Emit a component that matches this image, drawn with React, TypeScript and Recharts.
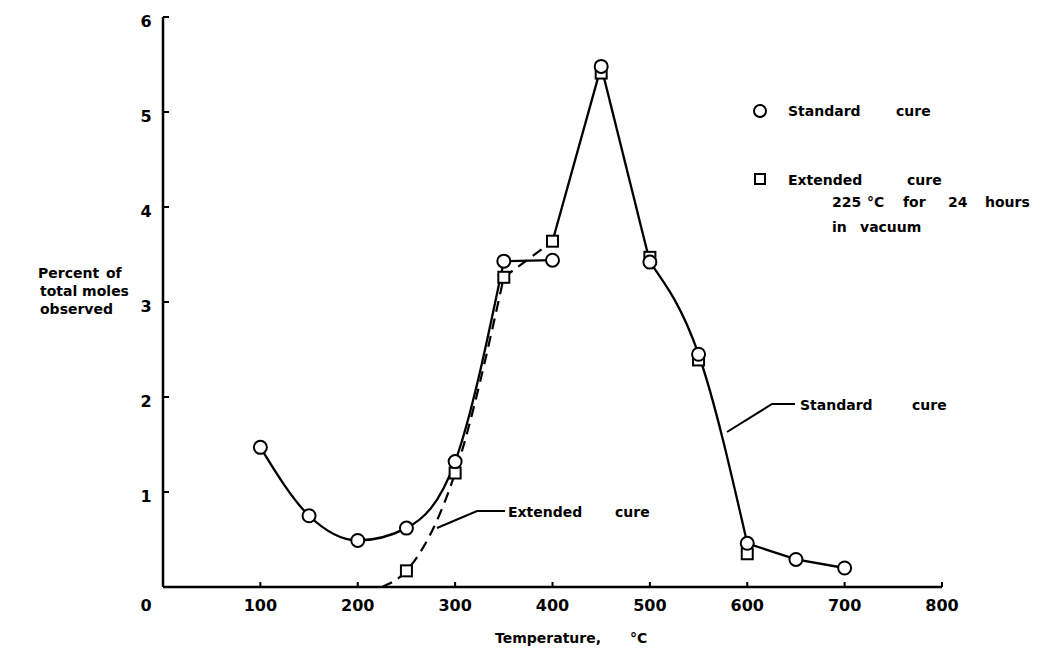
import React from "react"
import { ComposedChart, Line, Scatter, XAxis, YAxis } from "recharts"

// readings (temperature in °C, percent of total moles)
const standardTemps = [100, 150, 200, 250, 300, 350, 400, 450, 500, 550, 600, 650, 700]
const standardValues = [1.47, 0.75, 0.49, 0.62, 1.32, 3.43, 3.44, 5.48, 3.42, 2.45, 0.46, 0.29, 0.2]
const extendedTemps = [250, 300, 350, 400, 450, 500, 550, 600]
const extendedValues = [0.17, 1.2, 3.26, 3.64, 5.41, 3.47, 2.39, 0.35]
// the dashed extended-cure curve starts on the axis
const extendedStartTemp = 225
const extendedStartValue = 0

const xTicks = [0, 100, 200, 300, 400, 500, 600, 700, 800]
const yTicks = [1, 2, 3, 4, 5, 6]

const W = 1052
const H = 650
const PLOT_LEFT = 163
const PLOT_BOTTOM = 587
const FONT = "'DejaVu Sans', sans-serif"

const pts = (temps: number[], values: number[]) => temps.map((t, i) => ({ t, v: values[i] }))

const standardPoints = pts(standardTemps, standardValues)
const extendedPoints = pts(extendedTemps, extendedValues)

// the hand-drawn curve is broken into pieces (flat shelf, cusp at the peak)
const lowCurve = standardPoints.slice(0, 6)
const shelf = standardPoints.slice(5, 7)
const peakRise = [extendedPoints[3], standardPoints[7]]
const peakFall = standardPoints.slice(7, 9)
const steepDrop = standardPoints.slice(8, 11)
const tail = standardPoints.slice(10)
const extendedCurve = [{ t: extendedStartTemp, v: extendedStartValue }, ...extendedPoints.slice(0, 3)]
const extendedStep = extendedPoints.slice(2, 4)

const XTick = (props: any) => {
  const { x, payload } = props
  const v = payload.value
  return (
    <g>
      {v !== 0 && <line x1={x} x2={x} y1={PLOT_BOTTOM} y2={PLOT_BOTTOM - 5} stroke="#000" strokeWidth={2} />}
      <text
        x={v === 0 ? x - 17 : x}
        y={PLOT_BOTTOM + 18}
        textAnchor="middle"
        dominantBaseline="central"
        fontFamily={FONT}
        fontWeight="bold"
        fontSize={16}
        fill="#000"
      >
        {v}
      </text>
    </g>
  )
}

const YTick = (props: any) => {
  const { y, payload } = props
  return (
    <g>
      <line x1={PLOT_LEFT} x2={PLOT_LEFT + 6} y1={y} y2={y} stroke="#000" strokeWidth={2} />
      <text
        x={146}
        y={y + 4}
        textAnchor="middle"
        dominantBaseline="central"
        fontFamily={FONT}
        fontWeight="bold"
        fontSize={16}
        fill="#000"
      >
        {payload.value}
      </text>
    </g>
  )
}

const CircleMark = (props: any) => (
  <circle cx={props.cx} cy={props.cy} r={6.5} fill="#fff" stroke="#000" strokeWidth={2} />
)

const SquareMark = (props: any) => (
  <rect x={props.cx - 5.5} y={props.cy - 5.5} width={11} height={11} fill="#fff" stroke="#000" strokeWidth={2} />
)

const txt = { fontFamily: FONT, fontWeight: "bold" as const, fontSize: 14, fill: "#000" }

export default function App() {
  return (
    <div style={{ position: "absolute", left: 0, top: 0 }}>
      <ComposedChart width={W} height={H} margin={{ top: 17, right: 110, bottom: 0, left: 103 }}>
        <XAxis
          dataKey="t"
          type="number"
          domain={[0, 800]}
          ticks={xTicks}
          interval={0}
          height={63}
          axisLine={{ stroke: "#000", strokeWidth: 2.5 }}
          tickLine={false}
          tick={<XTick />}
        />
        <YAxis
          dataKey="v"
          type="number"
          domain={[0, 6]}
          ticks={yTicks}
          interval={0}
          width={60}
          axisLine={{ stroke: "#000", strokeWidth: 2.5 }}
          tickLine={false}
          tick={<YTick />}
        />

        <Line data={extendedCurve} dataKey="v" type="monotone" stroke="#000" strokeWidth={2.2} strokeDasharray="11 7" dot={false} activeDot={false} isAnimationActive={false} />
        <Line data={extendedStep} dataKey="v" type="linear" stroke="#000" strokeWidth={2.2} strokeDasharray="11 7" dot={false} activeDot={false} isAnimationActive={false} />
        <Line data={lowCurve} dataKey="v" type="monotone" stroke="#000" strokeWidth={2.3} dot={false} activeDot={false} isAnimationActive={false} />
        <Line data={shelf} dataKey="v" type="linear" stroke="#000" strokeWidth={2.3} dot={false} activeDot={false} isAnimationActive={false} />
        <Line data={peakRise} dataKey="v" type="linear" stroke="#000" strokeWidth={2.3} dot={false} activeDot={false} isAnimationActive={false} />
        <Line data={peakFall} dataKey="v" type="linear" stroke="#000" strokeWidth={2.3} dot={false} activeDot={false} isAnimationActive={false} />
        <Line data={steepDrop} dataKey="v" type="monotone" stroke="#000" strokeWidth={2.3} dot={false} activeDot={false} isAnimationActive={false} />
        <Line data={tail} dataKey="v" type="linear" stroke="#000" strokeWidth={2.3} dot={false} activeDot={false} isAnimationActive={false} />

        <Scatter data={extendedPoints} dataKey="v" shape={<SquareMark />} isAnimationActive={false} />
        <Scatter data={standardPoints} dataKey="v" shape={<CircleMark />} isAnimationActive={false} />

        {/* y axis title */}
        <text y={273} dominantBaseline="central" {...txt}>
          <tspan x={38}>Percent</tspan>
          <tspan x={106}>of</tspan>
        </text>
        <text x={40} y={291} dominantBaseline="central" {...txt}>total moles</text>
        <text x={40} y={309} dominantBaseline="central" {...txt}>observed</text>

        {/* x axis title */}
        <text y={638} dominantBaseline="central" {...txt}>
          <tspan x={495}>Temperature,</tspan>
          <tspan x={630}>°C</tspan>
        </text>

        {/* legend */}
        <circle cx={760} cy={111} r={6} fill="#fff" stroke="#000" strokeWidth={2} />
        <text y={111} dominantBaseline="central" {...txt}>
          <tspan x={788}>Standard</tspan>
          <tspan x={896}>cure</tspan>
        </text>
        <rect x={755} y={174} width={10} height={10} fill="#fff" stroke="#000" strokeWidth={2} />
        <text y={180} dominantBaseline="central" {...txt}>
          <tspan x={788}>Extended</tspan>
          <tspan x={907}>cure</tspan>
        </text>
        <text y={202} dominantBaseline="central" {...txt}>
          <tspan x={832}>225</tspan>
          <tspan x={867}>°C</tspan>
          <tspan x={903}>for</tspan>
          <tspan x={948}>24</tspan>
          <tspan x={985}>hours</tspan>
        </text>
        <text y={227} dominantBaseline="central" {...txt}>
          <tspan x={832}>in</tspan>
          <tspan x={860}>vacuum</tspan>
        </text>

        {/* curve call-outs */}
        <polyline points="437,528 477,511 505,511" fill="none" stroke="#000" strokeWidth={2} />
        <text y={512} dominantBaseline="central" {...txt}>
          <tspan x={508}>Extended</tspan>
          <tspan x={615}>cure</tspan>
        </text>
        <polyline points="727,432 772,404 795,404" fill="none" stroke="#000" strokeWidth={2} />
        <text y={405} dominantBaseline="central" {...txt}>
          <tspan x={800}>Standard</tspan>
          <tspan x={912}>cure</tspan>
        </text>
      </ComposedChart>
    </div>
  )
}
